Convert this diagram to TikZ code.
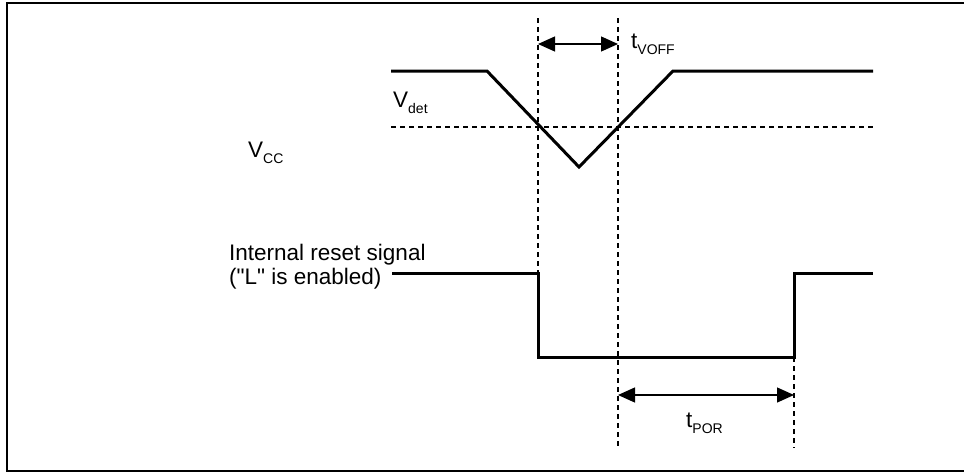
\documentclass[tikz,border=0pt]{standalone}
\usepackage{fontspec}
\setmainfont{Liberation Sans}
\newfontfamily\lsans{Liberation Sans}
\usetikzlibrary{arrows.meta}
\newcommand{\bigtxt}{\lsans\fontsize{22.5}{24}\selectfont}
\newcommand{\smalltxt}{\lsans\fontsize{14}{15}\selectfont}
\newcommand{\sigsub}[2]{{\bigtxt #1\raisebox{-6pt}{\smalltxt #2}}}
\tikzset{
  frameline/.style={line width=2.4pt},
  wave/.style={line width=3pt, line join=miter},
  guide/.style={line width=1.2pt, dash pattern=on 5pt off 4pt},
  span/.style={line width=1.3pt, {Triangle[length=17pt,width=15pt]}-{Triangle[length=17pt,width=15pt]}},
  lbl/.style={inner sep=0pt, anchor=base west}
}
\begin{document}
\begin{tikzpicture}[x=1pt,y=-1pt]
\useasboundingbox (0,0) rectangle (964,474);
% frame
\draw[frameline] (966,3) -- (7,3) -- (7,471) -- (966,471);
% coordinates
\coordinate (vs) at (391,71);
\coordinate (vk1) at (487,71);
\coordinate (vt) at (579,167);
\coordinate (vk2) at (673,71);
\coordinate (ve) at (873,71);
\coordinate (ds) at (391,127);
\coordinate (de) at (873,127);
\coordinate (g1t) at (538,18);
\coordinate (g1b) at (538,273);
\coordinate (g2t) at (618,18);
\coordinate (g2b) at (618,448);
\coordinate (g3t) at (794,357);
\coordinate (g3b) at (794,448);
\coordinate (rs) at (392,273);
\coordinate (rf1) at (538,273);
\coordinate (rf2) at (538,357);
\coordinate (rr1) at (794,357);
\coordinate (rr2) at (794,273);
\coordinate (re) at (873,273);
\coordinate (a1l) at (538,44);
\coordinate (a1r) at (618,44);
\coordinate (a2l) at (618,395);
\coordinate (a2r) at (794,395);
% guides
\draw[guide] (ds) -- (de);
\draw[guide] (g1t) -- (g1b);
\draw[guide] (g2t) -- (g2b);
\draw[guide] (g3t) -- (g3b);
% waveforms
\draw[wave] (vs) -- (vk1) -- (vt) -- (vk2) -- (ve);
\draw[wave] (rs) -- (rf1) -- (rf2) -- (rr1) -- (rr2) -- (re);
% spans
\draw[span] (a1l) -- (a1r);
\draw[span] (a2l) -- (a2r);
% labels
\node[lbl] (vcc) at (248,157) {\sigsub{V}{CC}};
\node[lbl] (vdet) at (393,107) {\sigsub{V}{det}};
\node[lbl] (tvoff) at (631,48) {\sigsub{t}{VOFF}};
\node[lbl] (tpor) at (686,427) {\sigsub{t}{POR}};
\node[lbl] (rst1) at (229,260) {\bigtxt Internal reset signal};
\node[lbl] (rst2) at (229,284) {\bigtxt ("L" is enabled)};
\end{tikzpicture}
\end{document}
